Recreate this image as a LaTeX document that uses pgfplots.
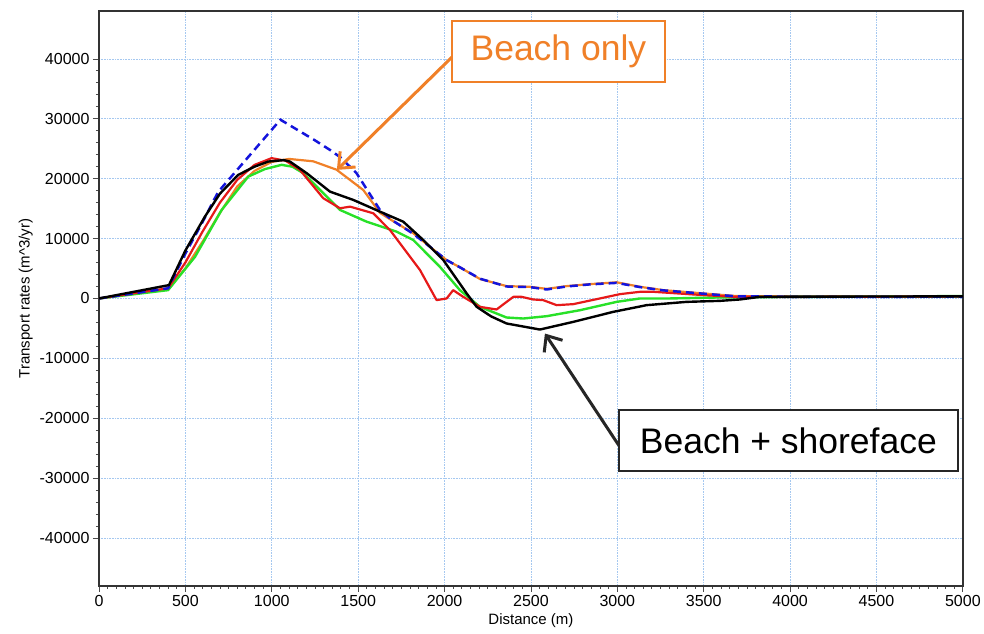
\documentclass[border=0pt]{standalone}
\usepackage{fontspec}
\setmainfont{Liberation Sans}
\usepackage{pgfplots}
\usepackage{pgfplotstable}
\pgfplotsset{compat=1.18}
\usetikzlibrary{arrows.meta}
\definecolor{gridblue}{RGB}{165,200,240}
\definecolor{orangec}{RGB}{240,128,40}
\definecolor{redc}{RGB}{230,25,25}
\definecolor{greenc}{RGB}{40,225,40}
\definecolor{bluec}{RGB}{20,20,220}

\pgfplotstableread{
x y
0 0
400 1600
500 5000
600 9500
700 14300
800 18700
900 21300
1000 22800
1100 23300
1240 22900
1375 21500
1530 18100
1626 14300
1703 12900
1819 10900
1915 8640
2012 6400
2089 5200
2205 3250
2359 2060
2494 1950
2591 1600
2706 2060
2841 2390
2996 2700
3131 1950
3266 1390
3497 840
3690 400
3883 380
4000 300
5000 350
}\orangedata

\pgfplotstableread{
x y
0 0
400 1700
500 7500
600 12800
690 17800
1050 29850
1250 26400
1337 24800
1400 23500
1491 20900
1626 14780
1700 13000
1819 10800
1915 8640
2012 6400
2089 5200
2205 3300
2359 2000
2494 1900
2591 1500
2706 2000
2841 2350
2996 2600
3131 1900
3266 1350
3497 800
3690 350
3883 350
4000 250
5000 300
}\bluedata

\pgfplotstableread{
x y
0 0
405 2230
500 8000
613 13660
700 17500
806 20640
900 22000
980 22860
1070 23100
1105 22860
1202 20920
1337 17840
1472 16450
1626 14500
1761 12820
1877 9760
1993 6410
2128 840
2186 -1400
2270 -3000
2359 -4180
2552 -5190
2745 -3910
2976 -2240
3169 -1120
3400 -570
3594 -400
3709 -170
3825 270
4000 300
5000 350
}\blackdata

\pgfplotstableread{
x y
0 0
400 1390
556 6960
710 14780
864 20350
960 21600
1057 22310
1120 22000
1182 20920
1279 18130
1395 14780
1549 12820
1723 11150
1819 9760
1973 5290
2089 1390
2205 -1400
2359 -3180
2455 -3350
2591 -2960
2784 -1960
2996 -570
3131 0
3304 0
3594 170
4000 250
5000 400
}\greendata

\pgfplotstableread{
x y
0 0
400 1700
500 6000
600 11200
700 16000
800 19800
900 22300
999 23430
1080 23000
1163 21470
1298 16740
1395 15060
1453 15330
1587 14230
1684 11430
1858 4740
1954 -280
2012 0
2050 1390
2108 270
2205 -1400
2301 -1840
2398 270
2446 270
2513 -170
2571 -280
2649 -1120
2745 -950
2899 0
3015 720
3131 1110
3208 1110
3497 560
3671 280
4000 250
5000 350
}\reddata

\begin{document}
\begin{tikzpicture}
\begin{axis}[
  scale only axis, width=864pt, height=575pt,
  xmin=0, xmax=5000, ymin=-48000, ymax=48000,
  xtick={0,500,...,5000}, ytick={-40000,-30000,...,40000},
  minor x tick num=9, minor y tick num=4,
  tick align=outside, tick pos=left,
  major tick length=6pt, minor tick length=3pt,
  grid=major,
  major grid style={gridblue, dash pattern=on 0.8pt off 0.8pt, line width=0.7pt},
  axis line style={line width=1.6pt, black!80},
  tick style={black!70, line width=0.8pt},
  scaled ticks=false,
  /pgf/number format/1000 sep={},
  /pgf/number format/assume math mode=true,
  ticklabel style={font=\fontsize{16}{18}\selectfont},
  label style={font=\fontsize{15}{17}\selectfont},
  xlabel={Distance (m)},
  ylabel={Transport rates (m\textasciicircum 3/yr)},
  clip=false,
]
\addplot[orangec, line width=2.2pt, line join=round] table[x=x,y=y] {\orangedata};
\addplot[greenc, line width=2.4pt, line join=round] table[x=x,y=y] {\greendata};
\addplot[redc, line width=2.2pt, line join=round] table[x=x,y=y] {\reddata};
\addplot[bluec, line width=2.5pt, dash pattern=on 8pt off 5pt] table[x=x,y=y] {\bluedata};
\addplot[black, line width=2.4pt, line join=round] table[x=x,y=y] {\blackdata};

\draw[orangec, line width=3pt, -{Straight Barb[length=13pt,width=22pt]}] (axis cs:2043,40300) -- (axis cs:1377,21470);
\node[draw=orangec, line width=2pt, fill=white, minimum width=213pt, minimum height=61pt, inner sep=0pt, text=orangec, font=\fontsize{35.5}{40}\selectfont] at (axis cs:2659,41300) {Beach only};

\draw[black!85, line width=3pt, -{Straight Barb[length=13pt,width=22pt]}] (axis cs:3009,-24550) -- (axis cs:2581,-5860);
\node[draw=black!85, line width=2pt, fill=white, minimum width=339pt, minimum height=61pt, inner sep=0pt, text=black, font=\fontsize{35.5}{40}\selectfont] at (axis cs:3990,-23800) {Beach + shoreface};
\end{axis}
\path ([xshift=-99pt,yshift=-48pt]current axis.south west) rectangle ([xshift=21pt,yshift=11pt]current axis.north east);
\end{tikzpicture}
\end{document}
